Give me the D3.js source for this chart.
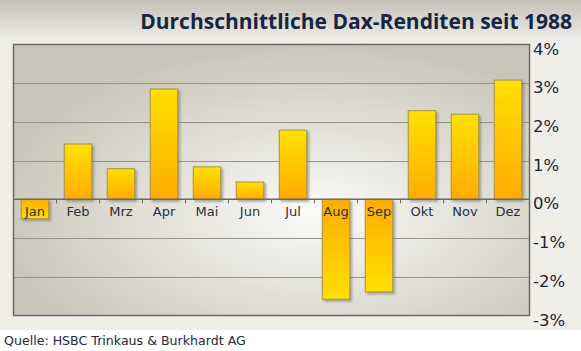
<!DOCTYPE html>
<html>
<head>
<meta charset="utf-8">
<script src="https://cdn.jsdelivr.net/npm/d3@7"></script>
<style>
  body { margin: 0; background: #ffffff; }
  svg { display: block; }
</style>
</head>
<body>
<svg id="chart"></svg>
<script>
// Data
const months = ["Jan", "Feb", "Mrz", "Apr", "Mai", "Jun", "Jul", "Aug", "Sep", "Okt", "Nov", "Dez"];
const returns = [-0.5, 1.43, 0.79, 2.85, 0.84, 0.45, 1.79, -2.58, -2.39, 2.29, 2.2, 3.08];
const yTicks = [4, 3, 2, 1, 0, -1, -2, -3];
const title = "Durchschnittliche Dax-Renditen seit 1988";
const source = "Quelle: HSBC Trinkaus & Burkhardt AG";

const width = 581, height = 351;
const plot = { left: 13.5, right: 529.5, top: 44.5, bottom: 315.5 };

const svg = d3.select("#chart")
    .attr("width", width)
    .attr("height", height);

const defs = svg.append("defs");

// Header gradient
const hg = defs.append("linearGradient").attr("id", "hg")
    .attr("x1", 0).attr("y1", 0).attr("x2", 0).attr("y2", 1);
hg.append("stop").attr("offset", "0%").attr("stop-color", "#c4c1b6");
hg.append("stop").attr("offset", "100%").attr("stop-color", "#efeee9");

// Plot background
const pg = defs.append("radialGradient").attr("id", "pg")
    .attr("cx", "58%").attr("cy", "62%").attr("r", "62%");
pg.append("stop").attr("offset", "0%").attr("stop-color", "#fbfbf9");
pg.append("stop").attr("offset", "100%").attr("stop-color", "#c9c6b9");

// Bar gradients
const gPos = defs.append("linearGradient").attr("id", "barPos")
    .attr("x1", 0).attr("y1", 0).attr("x2", 0).attr("y2", 1);
gPos.append("stop").attr("offset", "0%").attr("stop-color", "#ffe000");
gPos.append("stop").attr("offset", "100%").attr("stop-color", "#ffac00");
const gNeg = defs.append("linearGradient").attr("id", "barNeg")
    .attr("x1", 0).attr("y1", 0).attr("x2", 0).attr("y2", 1);
gNeg.append("stop").attr("offset", "0%").attr("stop-color", "#ffac00");
gNeg.append("stop").attr("offset", "100%").attr("stop-color", "#ffe000");

const shadow = defs.append("filter").attr("id", "shadow")
    .attr("x", "-20%").attr("y", "-20%").attr("width", "150%").attr("height", "150%");
shadow.append("feDropShadow").attr("dx", 2).attr("dy", 2).attr("stdDeviation", 1)
    .attr("flood-color", "#6b6555").attr("flood-opacity", 0.5);

// Backgrounds
svg.append("rect").attr("width", width).attr("height", 330).attr("fill", "#efeee9");
svg.append("rect").attr("width", width).attr("height", 42).attr("fill", "url(#hg)");

// Title
svg.append("text")
    .attr("x", 572)
    .attr("y", 29)
    .attr("text-anchor", "end")
    .style("font-family", "'Open Sans', sans-serif")
    .style("font-weight", "bold")
    .style("font-size", "21px")
    .attr("fill", "#172544")
    .text(title);

// Scales
const x = d3.scaleBand()
    .domain(months)
    .range([plot.left, plot.right])
    .paddingInner(0.36)
    .paddingOuter(0.18);

const y = d3.scaleLinear()
    .domain([-3, 4])
    .range([plot.bottom, plot.top]);

// Plot area
svg.append("rect")
    .attr("x", plot.left).attr("y", plot.top)
    .attr("width", plot.right - plot.left).attr("height", plot.bottom - plot.top)
    .attr("fill", "url(#pg)");

// Gridlines
svg.append("g")
    .selectAll("line")
    .data(yTicks.filter(d => d !== 0 && d !== 4 && d !== -3))
    .join("line")
    .attr("x1", plot.left).attr("x2", plot.right)
    .attr("y1", d => Math.round(y(d)) + 0.5).attr("y2", d => Math.round(y(d)) + 0.5)
    .attr("stroke", "#96938a")
    .attr("stroke-width", 1);

// Bars
svg.append("g")
    .selectAll("rect")
    .data(returns)
    .join("rect")
    .attr("x", (d, i) => x(months[i]))
    .attr("y", d => y(Math.max(0, d)))
    .attr("width", x.bandwidth())
    .attr("height", d => Math.abs(y(d) - y(0)))
    .attr("fill", d => d >= 0 ? "url(#barPos)" : "url(#barNeg)")
    .attr("stroke", "#a8904a")
    .attr("stroke-width", 1)
    .attr("filter", "url(#shadow)");

// Zero line with ticks
const xAxis = svg.append("g")
    .attr("transform", `translate(0, ${y(0)})`);
xAxis.append("line")
    .attr("x1", plot.left).attr("x2", plot.right)
    .attr("stroke", "#6d6a60").attr("stroke-width", 1.5);
xAxis.selectAll("line.tick")
    .data(months.slice(1))
    .join("line")
    .attr("class", "tick")
    .attr("x1", d => x(d) - x.step() * x.paddingInner() / 2)
    .attr("x2", d => x(d) - x.step() * x.paddingInner() / 2)
    .attr("y1", 0).attr("y2", 4)
    .attr("stroke", "#6d6a60");

// Month labels
xAxis.selectAll("text")
    .data(months)
    .join("text")
    .attr("x", d => x(d) + x.bandwidth() / 2)
    .attr("y", 17)
    .attr("text-anchor", "middle")
    .style("font-family", "'DejaVu Sans', Verdana, sans-serif")
    .style("font-size", "13px")
    .attr("fill", "#2b3040")
    .text(d => d);

// Frame
svg.append("rect")
    .attr("x", plot.left).attr("y", plot.top)
    .attr("width", plot.right - plot.left).attr("height", plot.bottom - plot.top)
    .attr("fill", "none")
    .attr("stroke", "#6d6a60")
    .attr("stroke-width", 1.5);

// Right axis labels
svg.append("g")
    .selectAll("text")
    .data(yTicks)
    .join("text")
    .attr("x", 533)
    .attr("y", d => y(d) + 10)
    .attr("text-anchor", "start")
    .style("font-family", "'DejaVu Sans', Verdana, sans-serif")
    .style("font-size", "16.5px")
    .attr("fill", "#1b2338")
    .text(d => d + "%");

// Source
svg.append("text")
    .attr("x", 4)
    .attr("y", 345)
    .style("font-family", "'DejaVu Sans', Verdana, sans-serif")
    .style("font-size", "12.6px")
    .attr("fill", "#222a3a")
    .text(source);
</script>
</body>
</html>
